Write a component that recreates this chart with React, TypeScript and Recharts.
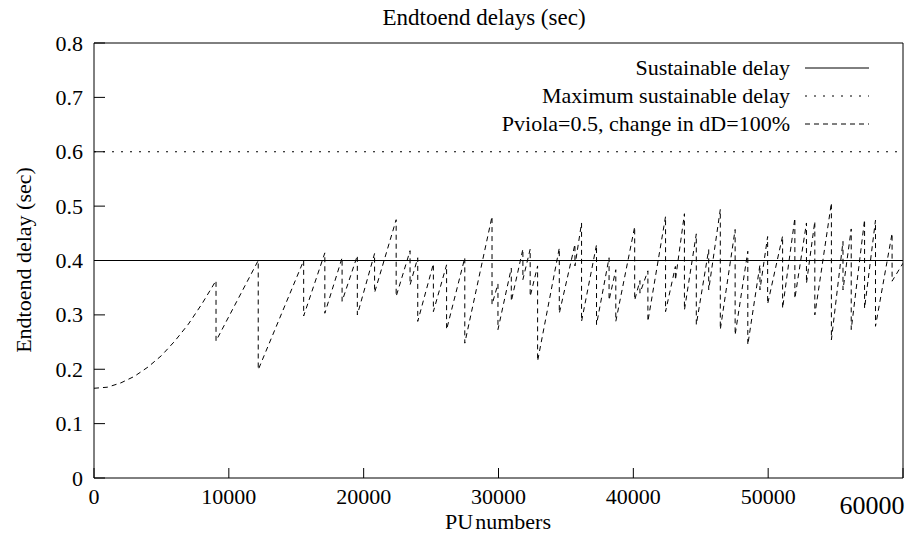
import React from 'react';
import { LineChart, Line, XAxis, YAxis, Legend } from 'recharts';

// PU numbers where the delay curve changes direction (each drop is a pair of points on one x)
const puNumbers = [
  0, 1000, 2000, 3000, 4000, 5000, 6000, 7000, 8000, 9050, 9050,
  12180, 12180, 15550, 15550, 17120, 17120, 18400, 18400, 19530, 19530,
  20810, 20810, 22410, 22410, 23440, 23440, 24010, 24010, 25170, 25170,
  26150, 26150, 27500, 27500, 29520, 29520, 29960, 29960, 30950, 30950,
  31810, 31810, 32350, 32350, 32900, 32900, 34510, 34510, 35670, 35670,
  36160, 36160, 37270, 37270, 38200, 38200, 38700, 38700, 40100, 40100,
  40490, 40490, 41080, 41080, 42390, 42390, 43120, 43120, 43790, 43790,
  44670, 44670, 45590, 45590, 46450, 46450, 47550, 47550, 48490, 48490,
  49390, 49390, 49960, 49960, 51070, 51070, 51980, 51980, 52840, 52840,
  53460, 53460, 54690, 54690, 55550, 55550, 56160, 56160, 57150, 57150,
  57960, 57960, 59190, 59190, 60000,
];

const delays = [
  0.165, 0.167, 0.175, 0.187, 0.204, 0.225, 0.252, 0.283, 0.32, 0.363, 0.252,
  0.4, 0.199, 0.4, 0.298, 0.414, 0.303, 0.405, 0.325, 0.409, 0.3,
  0.413, 0.341, 0.475, 0.334, 0.418, 0.355, 0.405, 0.288, 0.394, 0.306,
  0.392, 0.273, 0.405, 0.248, 0.481, 0.319, 0.357, 0.273, 0.386, 0.325,
  0.421, 0.365, 0.421, 0.334, 0.39, 0.215, 0.423, 0.303, 0.43, 0.39,
  0.469, 0.288, 0.429, 0.282, 0.405, 0.327, 0.383, 0.288, 0.462, 0.327,
  0.363, 0.34, 0.381, 0.288, 0.481, 0.306, 0.389, 0.364, 0.486, 0.309,
  0.449, 0.282, 0.42, 0.346, 0.494, 0.273, 0.457, 0.263, 0.417, 0.245,
  0.392, 0.346, 0.444, 0.32, 0.445, 0.312, 0.478, 0.33, 0.469, 0.358,
  0.472, 0.3, 0.506, 0.254, 0.435, 0.346, 0.458, 0.273, 0.475, 0.312,
  0.474, 0.279, 0.45, 0.362, 0.395,
];

const sustainableDelay = 0.4;
const maxSustainableDelay = 0.6;
const puRange = [0, 60000];

const xTicks = [0, 10000, 20000, 30000, 40000, 50000, 60000];
const yTicks = [0, 0.1, 0.2, 0.3, 0.4, 0.5, 0.6, 0.7, 0.8];

const seriesNames = ['Sustainable delay', 'Maximum sustainable delay', 'Pviola=0.5, change in dD=100%'];
const seriesDash = ['', '2 7', '5 4'];

const FONT = '"Liberation Serif", "Times New Roman", serif';

const delayData = puNumbers.map((pu, i) => ({ pu, delay: delays[i] }));
const sustainableData = puRange.map((pu) => ({ pu, delay: sustainableDelay }));
const maxData = puRange.map((pu) => ({ pu, delay: maxSustainableDelay }));

const XTick = ({ x, y, payload }: any) => {
  const last = payload.value === 60000;
  return (
    <text
      x={last ? x - 31 : x}
      y={last ? y + 26 : y + 16}
      textAnchor="middle"
      fontSize={last ? 26 : 22}
      fontFamily={FONT}
      fill="#000"
    >
      {payload.value}
    </text>
  );
};

const YTick = ({ x, y, payload }: any) => (
  <text x={x} y={y + 7.5} textAnchor="end" fontSize={22} fontFamily={FONT} fill="#000">
    {payload.value}
  </text>
);

// legend box has zero height so recharts does not shrink the plot for it
const renderLegend = () => (
  <div style={{ position: 'relative', width: 911, height: 0, fontFamily: FONT, fontSize: 22 }}>
    {seriesNames.map((name, i) => (
      <React.Fragment key={`leg-${i}`}>
        <div
          style={{
            position: 'absolute',
            top: i * 28,
            right: 911 - 790,
            lineHeight: '28px',
            whiteSpace: 'nowrap',
            color: '#000',
          }}
        >
          {name}
        </div>
        <svg style={{ position: 'absolute', left: 805, top: i * 28 }} width={64} height={28}>
          <line x1={0} x2={64} y1={14} y2={14} stroke="#000" strokeWidth={1} strokeDasharray={seriesDash[i] || undefined} />
        </svg>
      </React.Fragment>
    ))}
  </div>
);

export default function App() {
  return (
    <div style={{ position: 'absolute', left: 0, top: 0, width: 911, height: 543, background: '#fff', fontFamily: FONT }}>
      <div
        style={{
          position: 'absolute',
          top: 4,
          left: 484,
          transform: 'translateX(-50%)',
          fontSize: 23,
          lineHeight: '28px',
          whiteSpace: 'nowrap',
        }}
      >
        Endtoend delays (sec)
      </div>
      <div
        style={{
          position: 'absolute',
          left: 24,
          top: 260,
          transform: 'translate(-50%, -50%) rotate(-90deg)',
          fontSize: 22,
          lineHeight: '28px',
          whiteSpace: 'nowrap',
        }}
      >
        Endtoend delay (sec)
      </div>
      <div
        style={{
          position: 'absolute',
          left: 498,
          top: 508,
          transform: 'translateX(-50%)',
          fontSize: 22,
          lineHeight: '28px',
          whiteSpace: 'nowrap',
        }}
      >
        PU<span style={{ marginLeft: 2 }}>numbers</span>
      </div>
      <LineChart width={911} height={543} margin={{ top: 42, right: 0, bottom: 5, left: 34 }}>
        <XAxis
          xAxisId="bottom"
          type="number"
          dataKey="pu"
          domain={puRange}
          ticks={xTicks}
          interval={0}
          height={60}
          tickSize={-10}
          tickMargin={20}
          tick={<XTick />}
          axisLine={{ stroke: '#000' }}
          tickLine={{ stroke: '#000' }}
          allowDataOverflow
        />
        <XAxis
          xAxisId="top"
          orientation="top"
          type="number"
          dataKey="pu"
          domain={puRange}
          ticks={xTicks}
          interval={0}
          height={1}
          tickSize={-10}
          tick={false}
          axisLine={{ stroke: '#000' }}
          tickLine={{ stroke: '#000' }}
          allowDataOverflow
        />
        <YAxis
          yAxisId="left"
          type="number"
          domain={[0, 0.8]}
          ticks={yTicks}
          interval={0}
          width={60}
          tickSize={-11}
          tickMargin={22}
          tick={<YTick />}
          axisLine={{ stroke: '#000' }}
          tickLine={{ stroke: '#000' }}
          allowDataOverflow
        />
        <YAxis
          yAxisId="right"
          orientation="right"
          type="number"
          domain={[0, 0.8]}
          ticks={yTicks}
          interval={0}
          width={8}
          tickSize={-11}
          tick={false}
          axisLine={{ stroke: '#000' }}
          tickLine={{ stroke: '#000' }}
          allowDataOverflow
        />
        <Legend content={renderLegend} wrapperStyle={{ top: 54, left: 0, width: 911, height: 0 }} />
        <Line
          xAxisId="bottom"
          yAxisId="left"
          data={sustainableData}
          dataKey="delay"
          name={seriesNames[0]}
          type="linear"
          stroke="#000"
          strokeWidth={1}
          dot={false}
          isAnimationActive={false}
        />
        <Line
          xAxisId="bottom"
          yAxisId="left"
          data={maxData}
          dataKey="delay"
          name={seriesNames[1]}
          type="linear"
          stroke="#000"
          strokeWidth={1}
          strokeDasharray={seriesDash[1]}
          dot={false}
          isAnimationActive={false}
        />
        <Line
          xAxisId="bottom"
          yAxisId="left"
          data={delayData}
          dataKey="delay"
          name={seriesNames[2]}
          type="linear"
          stroke="#000"
          strokeWidth={1}
          strokeDasharray={seriesDash[2]}
          dot={false}
          isAnimationActive={false}
        />
      </LineChart>
    </div>
  );
}
